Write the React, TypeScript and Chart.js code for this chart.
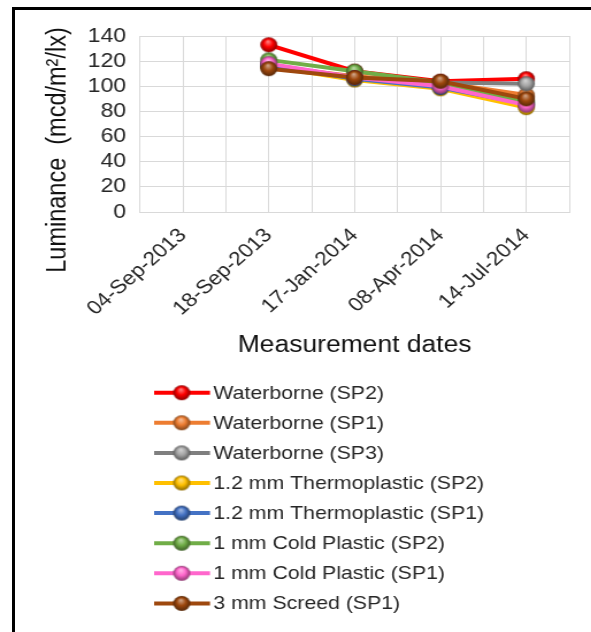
import React, { useEffect, useRef } from 'react';
import { Chart, registerables } from 'chart.js';

Chart.register(...registerables);

// ---- data ----
const categories = ['04-Sep-2013', '18-Sep-2013', '17-Jan-2014', '08-Apr-2014', '14-Jul-2014'];
const seriesLabels = [
  'Waterborne (SP2)',
  'Waterborne (SP1)',
  'Waterborne (SP3)',
  '1.2 mm Thermoplastic (SP2)',
  '1.2 mm Thermoplastic (SP1)',
  '1 mm Cold Plastic (SP2)',
  '1 mm Cold Plastic (SP1)',
  '3 mm Screed (SP1)',
];
const waterborneSP2 = [null, 133, 112, 104, 106];
const waterborneSP1 = [null, 116, 108, 103, 93];
const waterborneSP3 = [null, 117, 107, 103, 102];
const thermo12SP2 = [null, 116, 105, 98, 83];
const thermo12SP1 = [null, 117, 106, 99, 86];
const coldPlastic1SP2 = [null, 121, 112, 103, 87];
const coldPlastic1SP1 = [null, 118, 107, 100, 85];
const screed3SP1 = [null, 114, 107, 104, 90];
const seriesValues = [
  waterborneSP2, waterborneSP1, waterborneSP3, thermo12SP2,
  thermo12SP1, coldPlastic1SP2, coldPlastic1SP1, screed3SP1,
];
const seriesColors = ['#FF0000', '#ED7D31', '#7F7F7F', '#FFC000', '#4472C4', '#70AD47', '#FF66CC', '#9E480E'];
const markerColors = ['#FF0000', '#ED7D31', '#A5A5A5', '#FFC000', '#4472C4', '#70AD47', '#FF66CC', '#9E480E'];
const yMin = 0;
const yMax = 140;
const yStep = 20;
const yTitle = 'Luminance  (mcd/m\u00B2/lx)';
const xTitle = 'Measurement dates';

// ---- layout constants ----
const SX = 1.15;
const W = 514;
const H = 632;
const FONT = '"Liberation Sans", Arial, sans-serif';
const TEXT = '#262626';

function mix(hex: string, other: string, t: number) {
  const p = (h: string) => [1, 3, 5].map((i) => parseInt(h.slice(i, i + 2), 16));
  const a = p(hex), b = p(other);
  const c = a.map((v, i) => Math.round(v + (b[i] - v) * t));
  return `rgb(${c[0]},${c[1]},${c[2]})`;
}

function sphere(color: string, r: number) {
  const c = document.createElement('canvas');
  const size = Math.ceil(r * 2) + 2;
  c.width = size;
  c.height = size;
  const g = c.getContext('2d')!;
  const cx = size / 2, cy = size / 2;
  const grad = g.createRadialGradient(cx - r * 0.1, cy - r * 0.45, r * 0.05, cx, cy, r);
  grad.addColorStop(0, mix(color, '#ffffff', 0.5));
  grad.addColorStop(0.5, color);
  grad.addColorStop(1, mix(color, '#000000', 0.45));
  g.fillStyle = grad;
  g.beginPath();
  g.arc(cx, cy, r, 0, Math.PI * 2);
  g.fill();
  return c;
}

export default function App() {
  const ref = useRef<HTMLCanvasElement | null>(null);

  useEffect(() => {
    if (!ref.current) return;
    const spheres = markerColors.map((c) => sphere(c, 7.4));

    const extras = {
      id: 'extras',
      afterDraw(chart: any) {
        const ctx = chart.ctx;
        ctx.save();
        // y axis title
        ctx.translate(50.4, 150);
        ctx.rotate(-Math.PI / 2);
        ctx.font = `23.5px ${FONT}`;
        ctx.fillStyle = '#111';
        ctx.textAlign = 'center';
        ctx.textBaseline = 'middle';
        ctx.fillText(yTitle, 0, 0);
        ctx.restore();

        // legend
        ctx.save();
        const x0 = 134, x1 = 182.6, mx = 158, tx = 185.5;
        seriesLabels.forEach((lab, i) => {
          const y = 392.7 + i * 30.1;
          ctx.strokeStyle = seriesColors[i];
          ctx.lineWidth = 4;
          ctx.beginPath();
          ctx.moveTo(x0, y);
          ctx.lineTo(x1, y);
          ctx.stroke();
          const img = spheres[i];
          ctx.drawImage(img, mx - img.width / 2, y - img.height / 2);
          ctx.font = `18.5px ${FONT}`;
          ctx.fillStyle = TEXT;
          ctx.textAlign = 'left';
          ctx.textBaseline = 'middle';
          ctx.fillText(lab, tx, y + 1);
        });
        ctx.restore();
      },
    };

    const datasets = seriesLabels.map((label, i) => ({
      label,
      data: seriesValues[i].map((v, k) => ({ x: k, y: v })),
      borderColor: seriesColors[i],
      backgroundColor: seriesColors[i],
      borderWidth: 4,
      pointStyle: spheres[i],
      pointRadius: 7.5,
      pointHoverRadius: 7.5,
      tension: 0,
      fill: false,
      order: seriesLabels.length - i,
    }));

    const chart = new Chart(ref.current, {
      type: 'line',
      data: { datasets },
      plugins: [extras],
      options: {
        animation: false,
        responsive: false,
        events: [],
        layout: { padding: { top: 36, bottom: 273, left: 0, right: 19 } },
        plugins: { legend: { display: false }, tooltip: { enabled: false } },
        scales: {
          x: {
            type: 'linear',
            min: -0.5,
            max: 4.5,
            afterFit: (s: any) => { s.height = 147; s.paddingLeft = 0; s.paddingRight = 0; },
            grid: { color: '#D9D9D9', lineWidth: 1, drawTicks: false },
            border: { display: true, color: '#D9D9D9' },
            ticks: {
              stepSize: 0.5,
              autoSkip: false,
              minRotation: 45,
              maxRotation: 45,
              padding: 12,
              color: TEXT,
              font: { family: FONT, size: 19.5 },
              callback: (v: any) => {
                const n = Number(v);
                return Number.isInteger(n) && categories[n] ? categories[n] : '';
              },
            },
            title: {
              display: true,
              text: xTitle,
              color: '#111',
              padding: 0,
              font: { family: FONT, size: 23 },
            },
          },
          y: {
            min: yMin,
            max: yMax,
            afterFit: (s: any) => { s.width = 121.7; s.paddingTop = 0; s.paddingBottom = 0; },
            grid: { color: '#D9D9D9', lineWidth: 1, drawTicks: false },
            border: { display: true, color: '#D9D9D9' },
            ticks: {
              stepSize: yStep,
              autoSkip: false,
              padding: 12,
              color: TEXT,
              font: { family: FONT, size: 20 },
            },
          },
        },
      },
    });
    return () => chart.destroy();
  }, []);

  return (
    <div style={{ position: 'absolute', left: 0, top: 0, width: 591, height: 632, overflow: 'hidden', background: '#fff' }}>
      <div style={{ position: 'absolute', left: 0, top: 0, width: W, height: H, transform: `scaleX(${SX})`, transformOrigin: '0 0' }}>
        <canvas ref={ref} width={W} height={H} style={{ display: 'block', width: W, height: H }} />
      </div>
      <div style={{ position: 'absolute', left: 12, top: 7, width: 800, height: 800, border: '3px solid #000', boxSizing: 'border-box' }} />
    </div>
  );
}
